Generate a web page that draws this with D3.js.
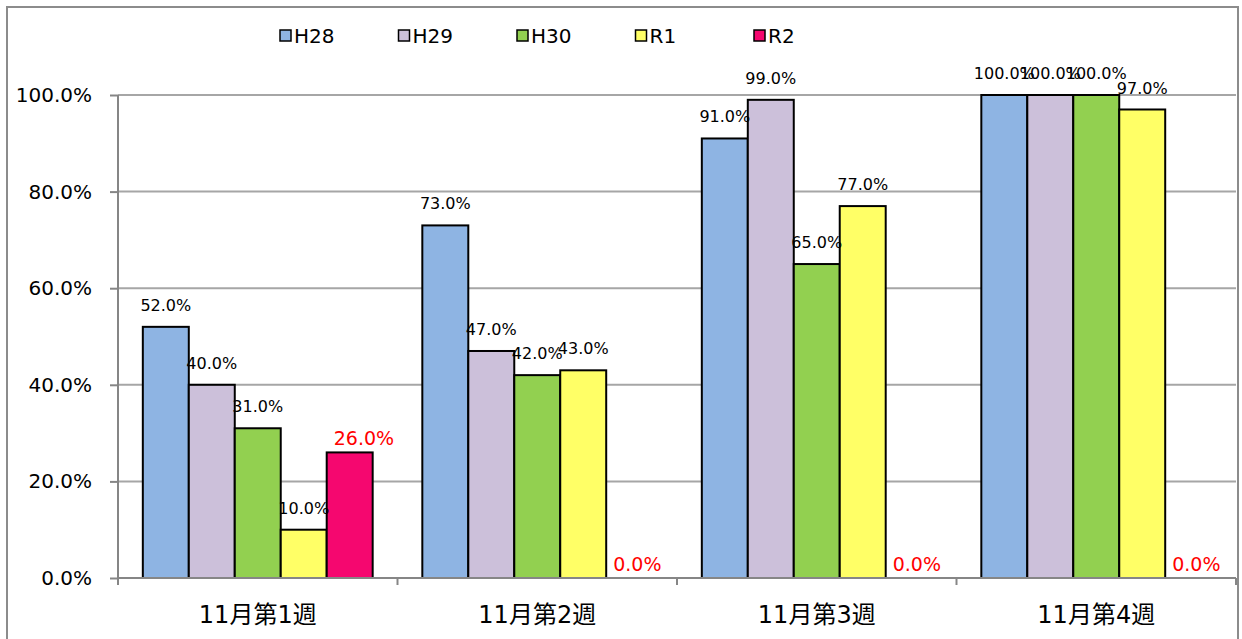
<!DOCTYPE html>
<html>
<head>
<meta charset="utf-8">
<script src="https://cdn.jsdelivr.net/npm/d3@7"></script>
<style>
  body { margin: 0; background: #fff; }
  svg { display: block; font-family: "DejaVu Sans", "Noto Sans CJK JP", sans-serif; }
</style>
</head>
<body>
<script>
// weeks along the x axis
var categories = ["11月第1週", "11月第2週", "11月第3週", "11月第4週"];
var seriesNames = ["H28", "H29", "H30", "R1", "R2"];
var seriesColors = ["#8EB4E3", "#CCC0DA", "#92D050", "#FFFF66", "#F5076F"];
// values in percent, one array per series
var h28 = [52, 73, 91, 100];
var h29 = [40, 47, 99, 100];
var h30 = [31, 42, 65, 100];
var r1  = [10, 43, 77, 97];
var r2  = [26, 0, 0, 0];
var yTicks = [0, 20, 40, 60, 80, 100];

var series = [h28, h29, h30, r1, r2];

var width = 1242, height = 639;
var margin = {top: 95, right: 6, bottom: 61, left: 118};
var innerW = width - margin.left - margin.right,
    innerH = height - margin.top - margin.bottom;

var svg = d3.select("body").append("svg")
   .attr("width", width)
   .attr("height", height);

// outer chart border
svg.append("rect")
   .attr("x", 7).attr("y", 7)
   .attr("width", 1231).attr("height", 660)
   .attr("fill", "none")
   .attr("stroke", "#8c8c8c")
   .attr("stroke-width", 2);

var g = svg.append("g")
   .attr("transform", "translate(" + margin.left + "," + margin.top + ")");

var x0 = d3.scaleBand().domain(categories).range([0, innerW]).padding(0);
var x1 = d3.scaleBand().domain(seriesNames).range([0, x0.bandwidth()])
   .paddingInner(0).paddingOuter(0.54);
var y = d3.scaleLinear().domain([0, 100]).range([innerH, 0]);

// gridlines
g.selectAll(".grid")
   .data(yTicks.slice(1))
   .enter().append("line")
   .attr("x1", 0).attr("x2", innerW)
   .attr("y1", function(d) { return y(d); })
   .attr("y2", function(d) { return y(d); })
   .attr("stroke", "#a6a6a6")
   .attr("stroke-width", 2);

// y axis
var yAxis = g.append("g")
   .call(d3.axisLeft(y).tickValues(yTicks).tickSize(8).tickPadding(18)
      .tickFormat(function(d) { return d.toFixed(1) + "%"; }));
yAxis.selectAll("text").attr("font-size", 20).attr("fill", "#000")
   .attr("font-family", "DejaVu Sans");
yAxis.selectAll("line").attr("stroke", "#868686").attr("stroke-width", 2);
yAxis.select(".domain").attr("stroke", "#868686").attr("stroke-width", 2)
   .attr("d", "M0," + (innerH + 6) + "V0");

function rows(d, i) {
   return series.map(function(s, j) { return {name: seriesNames[j], value: s[i], idx: j}; });
}

// bars
var groups = g.selectAll(".group")
   .data(categories)
   .enter().append("g")
   .attr("transform", function(d) { return "translate(" + x0(d) + ",0)"; });

groups.selectAll("rect")
   .data(rows)
   .enter().append("rect")
   .filter(function(d) { return d.value > 0; })
   .attr("x", function(d) { return x1(d.name); })
   .attr("y", function(d) { return y(d.value); })
   .attr("width", x1.bandwidth())
   .attr("height", function(d) { return innerH - y(d.value); })
   .attr("fill", function(d) { return seriesColors[d.idx]; })
   .attr("stroke", "#000")
   .attr("stroke-width", 2);

// data labels: black ones centred above the bar, the R2 ones in red
groups.selectAll(".lbl")
   .data(rows)
   .enter().append("text")
   .attr("class", "lbl")
   .attr("x", function(d) {
      return d.idx === 4 ? x1(d.name) + 7 : x1(d.name) + x1.bandwidth() / 2;
   })
   .attr("y", function(d) { return y(d.value) - (d.idx === 4 ? 7 : 16); })
   .attr("text-anchor", function(d) { return d.idx === 4 ? "start" : "middle"; })
   .attr("font-size", function(d) { return d.idx === 4 ? 19 : 16; })
   .attr("fill", function(d) { return d.idx === 4 ? "#ff0000" : "#000"; })
   .text(function(d) { return d.value.toFixed(1) + "%"; });

// x axis
g.append("line")
   .attr("x1", 0).attr("x2", innerW)
   .attr("y1", innerH).attr("y2", innerH)
   .attr("stroke", "#868686").attr("stroke-width", 2);
g.selectAll(".xtick")
   .data(categories.concat([null]))
   .enter().append("line")
   .attr("x1", function(d, i) { return i * x0.step(); })
   .attr("x2", function(d, i) { return i * x0.step(); })
   .attr("y1", innerH).attr("y2", innerH + 7)
   .attr("stroke", "#868686").attr("stroke-width", 2);
g.selectAll(".xlab")
   .data(categories)
   .enter().append("text")
   .attr("x", function(d) { return x0(d) + x0.bandwidth() / 2; })
   .attr("y", innerH + 45)
   .attr("text-anchor", "middle")
   .attr("font-size", 24)
   .attr("fill", "#000")
   .text(function(d) { return d; });

// legend
var legend = svg.append("g").attr("transform", "translate(280,30)");
var item = legend.selectAll(".leg")
   .data(seriesNames)
   .enter().append("g")
   .attr("transform", function(d, i) { return "translate(" + (i * 118.5) + ",0)"; });
item.append("rect")
   .attr("width", 11).attr("height", 11)
   .attr("fill", function(d, i) { return seriesColors[i]; })
   .attr("stroke", "#000").attr("stroke-width", 1.5);
item.append("text")
   .attr("x", 14).attr("y", 12.5)
   .attr("font-size", 20)
   .attr("fill", "#000")
   .text(function(d) { return d; });
</script>
</body>
</html>
